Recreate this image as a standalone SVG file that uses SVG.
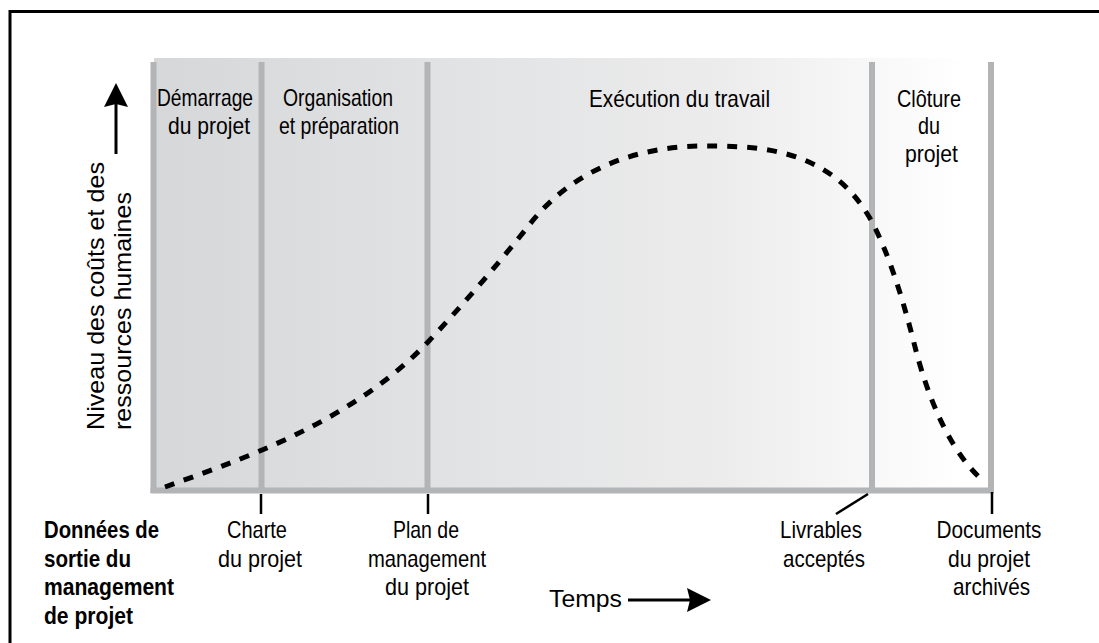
<svg xmlns="http://www.w3.org/2000/svg" width="1099" height="643" viewBox="0 0 1099 643">
  <defs>
    <linearGradient id="bgGrad" gradientUnits="userSpaceOnUse" x1="154" y1="0" x2="965" y2="0">
      <stop offset="0" stop-color="#d6d7d9"/>
      <stop offset="0.35" stop-color="#e1e2e3"/>
      <stop offset="0.7" stop-color="#ececed"/>
      <stop offset="1" stop-color="#ffffff"/>
    </linearGradient>
    <marker id="arrow" viewBox="0 0 24 24" refX="14" refY="12" markerWidth="24" markerHeight="24" markerUnits="userSpaceOnUse" orient="auto">
      <path d="M0,0 L24,12 L0,24 L3,12 Z" fill="#000"/>
    </marker>
    <style>
      .lbl { font-family: 'Liberation Sans', Arial, sans-serif; font-size: 24px; fill: #000; }
      .bold { font-weight: bold; }
      .mid { text-anchor: middle; }
      .axis { font-family: 'Liberation Sans', Arial, sans-serif; font-size: 24px; fill: #000; }
      .grid { stroke: #b3b4b6; stroke-width: 6; fill: none; }
      .tick { stroke: #000; stroke-width: 2.5; fill: none; }
      .curve { stroke: #000; stroke-width: 5; fill: none; stroke-dasharray: 10 10; }
      .arr { stroke: #000; stroke-width: 3; fill: none; marker-end: url(#arrow); }
    </style>
  </defs>

  <rect x="10" y="11.5" width="1200" height="700" fill="#ffffff" stroke="#000" stroke-width="3"/>

  <g id="chart-area">
    <rect x="154" y="58" width="811" height="432" fill="url(#bgGrad)"/>
    <line class="grid" x1="153.5" y1="62" x2="153.5" y2="493"/>
    <line class="grid" x1="261.5" y1="62" x2="261.5" y2="490"/>
    <line class="grid" x1="427.5" y1="62" x2="427.5" y2="490"/>
    <line class="grid" x1="872" y1="62" x2="872" y2="490"/>
    <line class="grid" x1="991" y1="62" x2="991" y2="493"/>
    <line class="grid" x1="150.5" y1="490.5" x2="994" y2="490.5"/>
  </g>

  <g id="phase-demarrage">
    <text class="lbl mid" x="205" y="106" textLength="96" lengthAdjust="spacingAndGlyphs">Démarrage</text>
    <text class="lbl mid" x="209" y="134" textLength="82" lengthAdjust="spacingAndGlyphs">du projet</text>
  </g>
  <g id="phase-organisation">
    <text class="lbl mid" x="338" y="106" textLength="110" lengthAdjust="spacingAndGlyphs">Organisation</text>
    <text class="lbl mid" x="339" y="134" textLength="120" lengthAdjust="spacingAndGlyphs">et préparation</text>
  </g>
  <g id="phase-execution">
    <text class="lbl mid" x="679.5" y="106.5" textLength="181" lengthAdjust="spacingAndGlyphs">Exécution du travail</text>
  </g>
  <g id="phase-cloture">
    <text class="lbl mid" x="929" y="106.5" textLength="64" lengthAdjust="spacingAndGlyphs">Clôture</text>
    <text class="lbl mid" x="929" y="134" textLength="22" lengthAdjust="spacingAndGlyphs">du</text>
    <text class="lbl mid" x="931.5" y="162" textLength="53" lengthAdjust="spacingAndGlyphs">projet</text>
  </g>

  <g id="curve">
    <path class="curve" d="M165,487 C230,463 348,426 428,342 C460,308 500,262 530,224 C575,167 640,146 705,146 C760,146 832,148 872,222 C887,250 902,295 914,343 C921,371 940,440 980,478"/>
  </g>

  <g id="y-axis">
    <line class="arr" x1="116" y1="154" x2="116" y2="93"/>
    <text class="axis" transform="translate(103.5,430) rotate(-90)" x="0" y="0" textLength="268" lengthAdjust="spacingAndGlyphs">Niveau des coûts et des</text>
    <text class="axis" transform="translate(130.5,430) rotate(-90)" x="0" y="0" textLength="238" lengthAdjust="spacingAndGlyphs">ressources humaines</text>
  </g>

  <g id="x-axis">
    <text class="axis" x="549" y="607" textLength="73" lengthAdjust="spacingAndGlyphs">Temps</text>
    <line class="arr" x1="628" y1="600" x2="701" y2="600"/>
  </g>

  <g id="connectors">
    <line class="tick" x1="261" y1="494" x2="261" y2="514"/>
    <line class="tick" x1="428" y1="494" x2="428" y2="514"/>
    <line class="tick" x1="868" y1="494" x2="836" y2="514"/>
    <line class="tick" x1="992" y1="492" x2="992" y2="514"/>
  </g>

  <g id="outputs-title">
    <text class="lbl bold" x="44" y="538" textLength="115" lengthAdjust="spacingAndGlyphs">Données de</text>
    <text class="lbl bold" x="44" y="566.5" textLength="87" lengthAdjust="spacingAndGlyphs">sortie du</text>
    <text class="lbl bold" x="44" y="595" textLength="130" lengthAdjust="spacingAndGlyphs">management</text>
    <text class="lbl bold" x="44" y="623.5" textLength="89" lengthAdjust="spacingAndGlyphs">de projet</text>
  </g>
  <g id="output-charte">
    <text class="lbl mid" x="257" y="538" textLength="60" lengthAdjust="spacingAndGlyphs">Charte</text>
    <text class="lbl mid" x="260" y="566.5" textLength="84" lengthAdjust="spacingAndGlyphs">du projet</text>
  </g>
  <g id="output-plan">
    <text class="lbl mid" x="426" y="538" textLength="66" lengthAdjust="spacingAndGlyphs">Plan de</text>
    <text class="lbl mid" x="427" y="566.5" textLength="118" lengthAdjust="spacingAndGlyphs">management</text>
    <text class="lbl mid" x="427" y="595" textLength="84" lengthAdjust="spacingAndGlyphs">du projet</text>
  </g>
  <g id="output-livrables">
    <text class="lbl mid" x="821" y="538" textLength="82" lengthAdjust="spacingAndGlyphs">Livrables</text>
    <text class="lbl mid" x="824" y="566.5" textLength="82" lengthAdjust="spacingAndGlyphs">acceptés</text>
  </g>
  <g id="output-documents">
    <text class="lbl mid" x="989" y="538" textLength="105" lengthAdjust="spacingAndGlyphs">Documents</text>
    <text class="lbl mid" x="989" y="566.5" textLength="82" lengthAdjust="spacingAndGlyphs">du projet</text>
    <text class="lbl mid" x="991.5" y="595" textLength="77" lengthAdjust="spacingAndGlyphs">archivés</text>
  </g>
</svg>
